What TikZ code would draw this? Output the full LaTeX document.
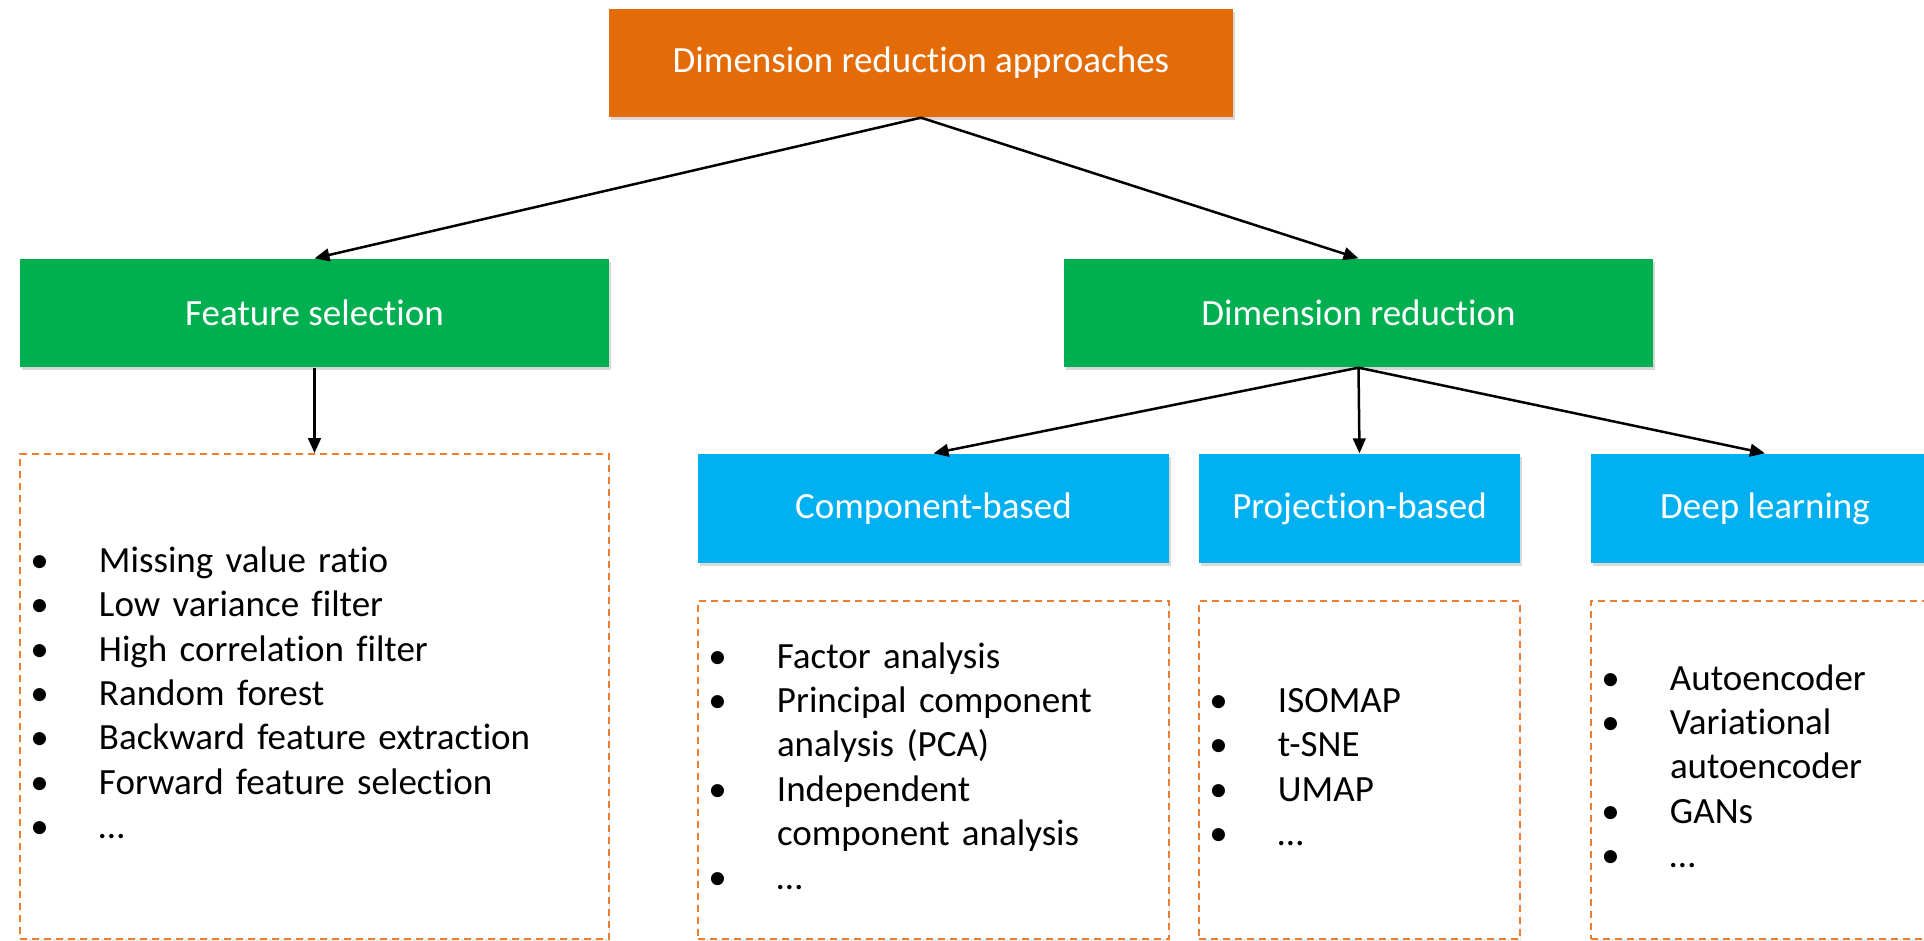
\documentclass[tikz,border=0pt]{standalone}
\usepackage{fontspec}
\setmainfont{Carlito}[Ligatures=NoCommon]
\usetikzlibrary{arrows.meta,shadows}

\definecolor{rootorange}{HTML}{E36C09}
\definecolor{branchgreen}{HTML}{00B050}
\definecolor{familyblue}{HTML}{00B0F0}
\definecolor{listorange}{HTML}{ED7D31}

% bullet list set inside a dashed box
\newcommand{\methodlist}[1]{\noindent\begin{tabular}{@{\hspace{3.1pt}}p{20.6pt}@{}l@{}}#1\end{tabular}}

\begin{document}
\begin{tikzpicture}[x=0.3pt, y=-0.3pt,
    headbox/.style={rectangle, inner sep=0pt, text=white, font=\fontsize{11.1}{13.3}\selectfont,
        drop shadow={shadow xshift=0.5pt, shadow yshift=-0.9pt, opacity=0.3}},
    rootbox/.style={headbox, fill=rootorange, minimum width=187.2pt, minimum height=32.4pt},
    branchbox/.style={headbox, fill=branchgreen, minimum width=176.7pt, minimum height=32.4pt},
    familybox/.style={headbox, fill=familyblue, minimum height=32.7pt},
    listbox/.style={rectangle, draw=listorange, dash pattern=on 2.1pt off 1.5pt, line width=0.55pt,
        fill=white, inner xsep=0pt, inner ysep=0pt, align=left, font=\fontsize{11.1}{13.3}\selectfont,
        drop shadow={shadow xshift=0.4pt, shadow yshift=-0.6pt, opacity=0.15}},
    link/.style={line width=0.75pt, -{Triangle[length=4.5pt, width=3.8pt]}}]

    \useasboundingbox (0,0) rectangle (1924,940);
    \clip (0,0) rectangle (1924,940);

    % headers
    \node [rootbox] (root) at (921,63) {Dimension reduction approaches};
    \node [branchbox] (featsel) at (314.5,313) {Feature selection};
    \node [branchbox] (dimred) at (1358.5,313) {Dimension reduction};
    \node [familybox, minimum width=141.3pt] (compbased) at (933.5,508.5) {Component-based};
    \node [familybox, minimum width=96.3pt] (projbased) at (1359.5,508.5) {Projection-based};
    \node [familybox, minimum width=104.4pt] (deeplearn) at (1765,508.5) {Deep learning};

    % method lists
    \node [listbox, minimum width=176.7pt, text width=176.7pt, minimum height=145.5pt] (featlist) at (314.5,696.5)
        {\methodlist{\textbullet & Missing value ratio\\
                     \textbullet & Low variance filter\\
                     \textbullet & High correlation filter\\
                     \textbullet & Random forest\\
                     \textbullet & Backward feature extraction\\
                     \textbullet & Forward feature selection\\
                     \textbullet & …}};
    \node [listbox, minimum width=141.3pt, text width=141.3pt, minimum height=101.4pt] (complist) at (933.5,770)
        {\methodlist{\textbullet & Factor analysis\\
                     \textbullet & Principal component\\
                                 & analysis (PCA)\\
                     \textbullet & Independent\\
                                 & component analysis\\
                     \textbullet & …}};
    \node [listbox, minimum width=96.3pt, text width=96.3pt, minimum height=101.4pt] (projlist) at (1359.5,770)
        {\methodlist{\textbullet & ISOMAP\\
                     \textbullet & t-SNE\\
                     \textbullet & UMAP\\
                     \textbullet & …}};
    \node [listbox, minimum width=104.4pt, text width=104.4pt, minimum height=101.4pt] (deeplist) at (1765,770)
        {\methodlist{\textbullet & Autoencoder\\
                     \textbullet & Variational\\
                                 & autoencoder\\
                     \textbullet & GANs\\
                     \textbullet & …}};

    % connectors
    \draw [link] (root.south) -- (featsel.north);
    \draw [link] (root.south) -- (dimred.north);
    \draw [link] (featsel.south) -- (featlist.north);
    \draw [link] (dimred.south) -- (compbased.north);
    \draw [link] (dimred.south) -- (projbased.north);
    \draw [link] (dimred.south) -- (deeplearn.north);
\end{tikzpicture}
\end{document}
